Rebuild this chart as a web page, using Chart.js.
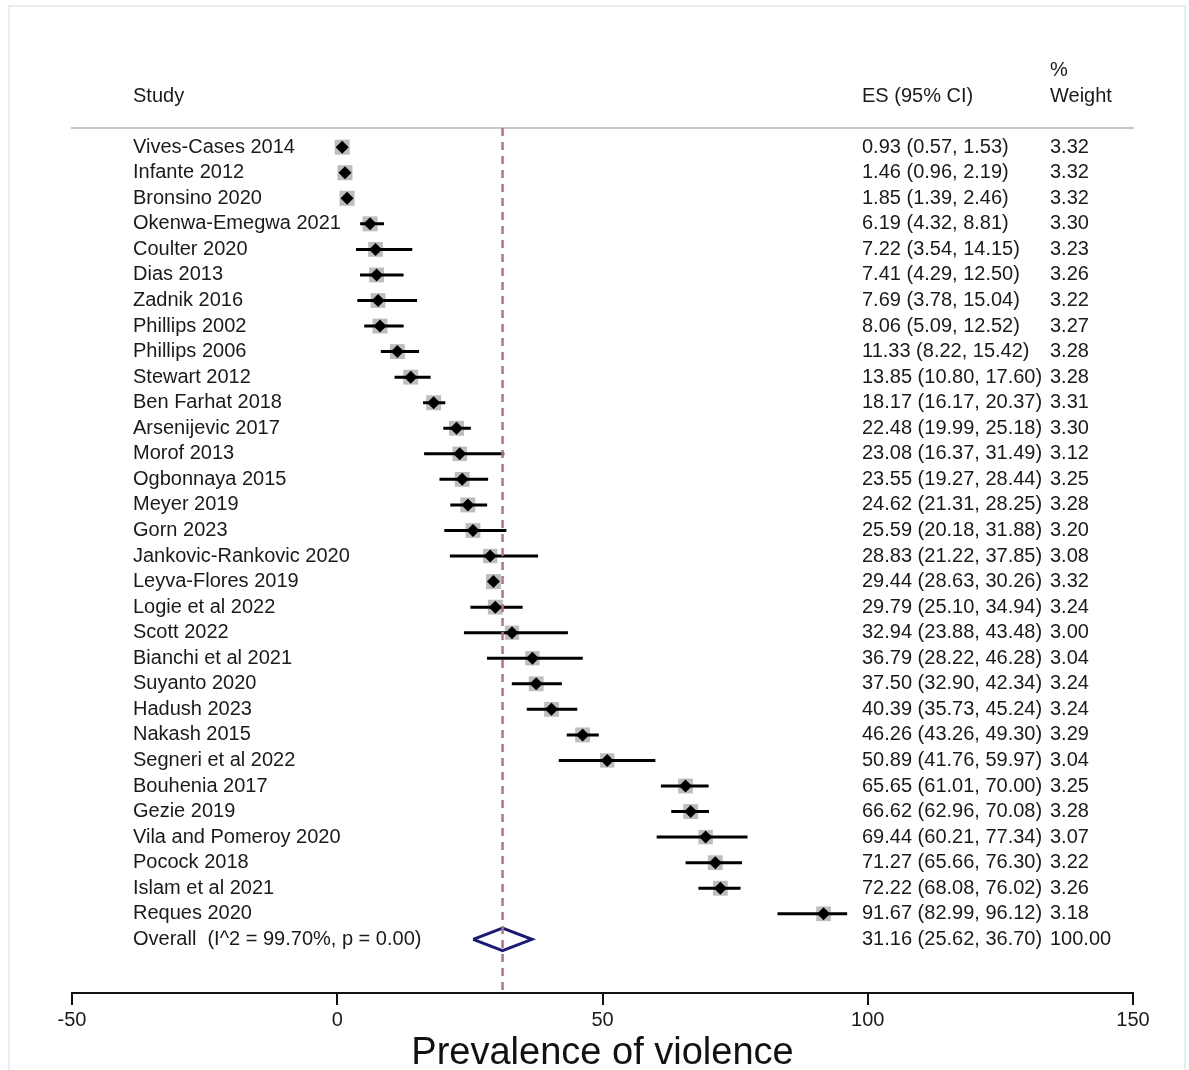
<!DOCTYPE html>
<html>
<head>
<meta charset="utf-8">
<script src="https://cdn.jsdelivr.net/npm/chart.js@4.4.1/dist/chart.umd.min.js"></script>
<style>
  html, body { margin: 0; padding: 0; background: #fff; }
  #wrap { width: 1189px; height: 1070px; position: relative; }
</style>
</head>
<body>
<div id="wrap"><canvas id="forestPlot"></canvas></div>
<script>
const studies = [
    'Vives-Cases 2014', 'Infante 2012', 'Bronsino 2020', 'Okenwa-Emegwa 2021',
    'Coulter 2020', 'Dias 2013', 'Zadnik 2016', 'Phillips 2002', 'Phillips 2006',
    'Stewart 2012', 'Ben Farhat 2018', 'Arsenijevic 2017', 'Morof 2013',
    'Ogbonnaya 2015', 'Meyer 2019', 'Gorn 2023', 'Jankovic-Rankovic 2020',
    'Leyva-Flores 2019', 'Logie et al 2022', 'Scott 2022', 'Bianchi et al 2021',
    'Suyanto 2020', 'Hadush 2023', 'Nakash 2015', 'Segneri et al 2022',
    'Bouhenia 2017', 'Gezie 2019', 'Vila and Pomeroy 2020', 'Pocock 2018',
    'Islam et al 2021', 'Reques 2020'
];
const es = [0.93, 1.46, 1.85, 6.19, 7.22, 7.41, 7.69, 8.06, 11.33, 13.85, 18.17, 22.48, 23.08,
    23.55, 24.62, 25.59, 28.83, 29.44, 29.79, 32.94, 36.79, 37.50, 40.39, 46.26, 50.89,
    65.65, 66.62, 69.44, 71.27, 72.22, 91.67];
const ciLow = [0.57, 0.96, 1.39, 4.32, 3.54, 4.29, 3.78, 5.09, 8.22, 10.80, 16.17, 19.99, 16.37,
    19.27, 21.31, 20.18, 21.22, 28.63, 25.10, 23.88, 28.22, 32.90, 35.73, 43.26, 41.76,
    61.01, 62.96, 60.21, 65.66, 68.08, 82.99];
const ciHigh = [1.53, 2.19, 2.46, 8.81, 14.15, 12.50, 15.04, 12.52, 15.42, 17.60, 20.37, 25.18, 31.49,
    28.44, 28.25, 31.88, 37.85, 30.26, 34.94, 43.48, 46.28, 42.34, 45.24, 49.30, 59.97,
    70.00, 70.08, 77.34, 76.30, 76.02, 96.12];
const weights = [3.32, 3.32, 3.32, 3.30, 3.23, 3.26, 3.22, 3.27, 3.28, 3.28, 3.31, 3.30, 3.12,
    3.25, 3.28, 3.20, 3.08, 3.32, 3.24, 3.00, 3.04, 3.24, 3.24, 3.29, 3.04,
    3.25, 3.28, 3.07, 3.22, 3.26, 3.18];

const overallLabel = 'Overall  (I^2 = 99.70%, p = 0.00)';
const overallES = 31.16;
const overallLow = 25.62;
const overallHigh = 36.70;
const overallWeight = 100.00;

const xTicks = [-50, 0, 50, 100, 150];

const FONT = '"Liberation Sans", Arial, sans-serif';
const overallRow = studies.length;
const yTop = -0.75, yBottom = 33.1;

// CI whiskers as one line dataset broken by null points
let ciData = [];
studies.forEach((s, i) => {
    ciData.push({x: ciLow[i], y: i}, {x: ciHigh[i], y: i}, {x: null, y: null});
});

const squareData = es.map((v, i) => ({x: v, y: i}));
const squareRadius = weights.map(w => 15 * Math.sqrt(w / 3.32) / Math.SQRT2);
const pointData = es.map((v, i) => ({x: v, y: i}));

const dh = 0.44;
const diamondData = [
    {x: overallLow, y: overallRow},
    {x: overallES, y: overallRow - dh},
    {x: overallHigh, y: overallRow},
    {x: overallES, y: overallRow + dh},
    {x: overallLow, y: overallRow}
];

const textPlugin = {
    id: 'forestText',
    beforeDraw(chart) {
        const c = chart.ctx;
        c.save();
        c.fillStyle = '#fff';
        c.fillRect(0, 0, chart.width, chart.height);
        c.strokeStyle = '#e6eef0';
        c.lineWidth = 2;
        c.strokeRect(9, 6, 1176, 1100);
        c.restore();
    },
    afterDraw(chart) {
        const c = chart.ctx;
        const y = chart.scales.y;
        c.save();
        c.fillStyle = '#1a1a1a';
        c.font = '20px ' + FONT;
        c.textBaseline = 'middle';
        c.textAlign = 'left';
        c.fillText('Study', 133, 96);
        c.fillText('ES (95% CI)', 862, 96);
        c.fillText('%', 1050, 70);
        c.fillText('Weight', 1050, 96);
        studies.forEach((s, i) => {
            const py = y.getPixelForValue(i);
            c.fillText(s, 133, py);
            c.fillText(es[i].toFixed(2) + ' (' + ciLow[i].toFixed(2) + ', ' + ciHigh[i].toFixed(2) + ')', 862, py);
            c.fillText(weights[i].toFixed(2), 1050, py);
        });
        const oy = y.getPixelForValue(overallRow);
        c.fillText(overallLabel, 133, oy);
        c.fillText(overallES.toFixed(2) + ' (' + overallLow.toFixed(2) + ', ' + overallHigh.toFixed(2) + ')', 862, oy);
        c.fillText(overallWeight.toFixed(2), 1050, oy);
        c.restore();
    }
};

const config = {
    type: 'scatter',
    data: {
        datasets: [
            {
                label: 'weight',
                data: squareData,
                pointStyle: 'rect',
                pointRadius: squareRadius,
                backgroundColor: '#bdbdbd',
                borderWidth: 0,
                order: 4
            },
            {
                label: 'ci',
                data: ciData,
                showLine: true,
                spanGaps: false,
                borderColor: '#000',
                borderWidth: 3,
                pointRadius: 0,
                order: 3
            },
            {
                label: 'es',
                data: pointData,
                pointStyle: 'rectRot',
                pointRadius: 6.5,
                backgroundColor: '#000',
                borderWidth: 0,
                order: 2
            },
            {
                label: 'overall',
                data: diamondData,
                showLine: true,
                borderColor: '#1b1b73',
                borderWidth: 3,
                pointRadius: 0,
                fill: false,
                order: 1
            },
            {
                label: 'ref',
                data: [{x: overallES, y: yTop}, {x: overallES, y: yBottom}],
                showLine: true,
                borderColor: '#b3747c',
                borderWidth: 2.5,
                borderDash: [8, 6],
                pointRadius: 0,
                order: 0
            }
        ]
    },
    options: {
        responsive: true,
        maintainAspectRatio: false,
        animation: false,
        layout: { padding: { left: 72, right: 56, top: 128, bottom: 0 } },
        plugins: {
            legend: { display: false },
            tooltip: { enabled: false }
        },
        scales: {
            x: {
                type: 'linear',
                position: 'bottom',
                min: -50,
                max: 150,
                afterBuildTicks: (scale) => {
                    scale.ticks = xTicks.map(v => ({value: v}));
                },
                border: { color: '#111', width: 2 },
                grid: { drawOnChartArea: false, drawTicks: true, tickLength: 12, color: '#111', lineWidth: 2 },
                ticks: { color: '#1a1a1a', padding: 3, font: { size: 20, family: FONT } },
                title: {
                    display: true,
                    text: 'Prevalence of violence',
                    color: '#111',
                    padding: { top: 0, bottom: -3 },
                    font: { size: 38, family: FONT, lineHeight: 1 }
                }
            },
            x2: {
                type: 'linear',
                position: 'top',
                min: -50,
                max: 150,
                border: { color: '#c6c6c6', width: 2 },
                grid: { display: false, drawTicks: false },
                ticks: { display: false }
            },
            y: {
                type: 'linear',
                display: false,
                reverse: true,
                min: yTop,
                max: yBottom
            }
        }
    },
    plugins: [textPlugin]
};

const forestPlot = new Chart(document.getElementById('forestPlot'), config);
</script>
</body>
</html>
